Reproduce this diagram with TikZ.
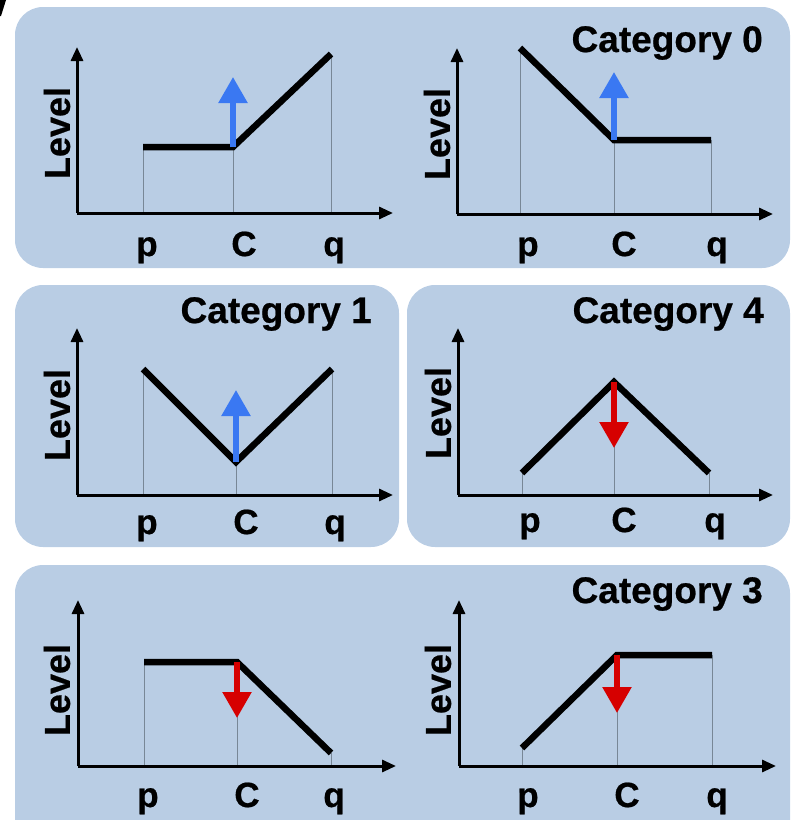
\documentclass[tikz,border=0pt]{standalone}
\usepackage{fontspec}
\setmainfont{Liberation Sans}[BoldFeatures={FakeBold=0.6}]
\usetikzlibrary{arrows.meta}
\definecolor{panelblue}{RGB}{185,205,228}
\definecolor{arrowblue}{RGB}{58,120,242}
\definecolor{arrowred}{RGB}{214,0,0}
\definecolor{guidegray}{RGB}{120,135,150}
\tikzset{
  panel/.style={fill=panelblue, draw=none, rounded corners=28pt},
  axis/.style={line width=3pt, -{Triangle[length=14pt,width=12pt]}},
  curve/.style={line width=6.5pt},
  guide/.style={draw=guidegray, line width=0.7pt},
  uparrow/.style={draw=arrowblue, line width=5.5pt, -{Triangle[length=26pt,width=28pt]}},
  downarrow/.style={draw=arrowred, line width=5.5pt, -{Triangle[length=26pt,width=28pt]}},
  lvl/.style={rotate=90, inner sep=0pt, font=\bfseries\fontsize{36}{38}\selectfont},
  tick/.style={anchor=base, inner sep=0pt, font=\bfseries\fontsize{35}{38}\selectfont},
  cat/.style={anchor=base east, inner sep=0pt, font=\bfseries\fontsize{37}{40}\selectfont},
}
\begin{document}
\begin{tikzpicture}[x=1pt,y=-1pt]
\useasboundingbox (0,0) rectangle (792,820);
\clip (0,0) rectangle (792,820);
\fill (0,0) -- (6,0) -- (1,16) -- (0,16) -- cycle;
% panels
\fill[panel] (15,7) rectangle (790,268);
\fill[panel] (15,285) rectangle (399,547);
\fill[panel] (407,285) rectangle (790,547);
\fill[panel] (15,565) rectangle (790,860);

% ---------- Plot A (top left)
\coordinate (aO) at (77,213); \coordinate (aY) at (77,47); \coordinate (aX) at (393,213);
\coordinate (aPb) at (143,213); \coordinate (aCb) at (233,213); \coordinate (aQb) at (331,213);
\coordinate (aP) at (143,147); \coordinate (aC) at (233,147); \coordinate (aQ) at (331,54);
\coordinate (aT) at (233,77);
\draw[guide] (aPb) -- (aP); \draw[guide] (aCb) -- (aC); \draw[guide] (aQb) -- (aQ);
\draw[axis] (aO) -- (aY); \draw[axis] (aO) -- (aX);
\draw[curve] (aP) -- (aC) -- (aQ);
\draw[uparrow] (aC) -- (aT);
\node[lvl] (aL) at (57,133) {Level};
\node[tick] (ap) at (147,256) {p};
\node[tick] (ac) at (244,256) {C};
\node[tick] (aq) at (334,256) {q};

% ---------- Plot B (top right)
\coordinate (bO) at (457,214); \coordinate (bY) at (457,48); \coordinate (bX) at (773,214);
\coordinate (bPb) at (520,214); \coordinate (bCb) at (614,214); \coordinate (bQb) at (711,214);
\coordinate (bP) at (520,48); \coordinate (bC) at (614,140); \coordinate (bQ) at (711,140);
\coordinate (bT) at (614,72);
\draw[guide] (bPb) -- (bP); \draw[guide] (bCb) -- (bC); \draw[guide] (bQb) -- (bQ);
\draw[axis] (bO) -- (bY); \draw[axis] (bO) -- (bX);
\draw[curve] (bP) -- (bC) -- (bQ);
\draw[uparrow] (bC) -- (bT);
\node[lvl] (bL) at (437,134) {Level};
\node[tick] (bp) at (528,256) {p};
\node[tick] (bc) at (624,256) {C};
\node[tick] (bq) at (717,256) {q};
\node[cat] (b0) at (763,52) {Category 0};

% ---------- Plot C (middle left)
\coordinate (cO) at (77,495); \coordinate (cY) at (77,328); \coordinate (cX) at (393,495);
\coordinate (cPb) at (143,495); \coordinate (cCb) at (236,495); \coordinate (cQb) at (332,495);
\coordinate (cP) at (143,369); \coordinate (cC) at (236,462); \coordinate (cQ) at (332,369);
\coordinate (cT) at (236,390);
\draw[guide] (cPb) -- (cP); \draw[guide] (cCb) -- (cC); \draw[guide] (cQb) -- (cQ);
\draw[axis] (cO) -- (cY); \draw[axis] (cO) -- (cX);
\draw[curve] (cP) -- (cC) -- (cQ);
\draw[uparrow] (cC) -- (cT);
\node[lvl] (cL) at (57,415) {Level};
\node[tick] (cp) at (147,534) {p};
\node[tick] (cc) at (246,534) {C};
\node[tick] (cq) at (335,534) {q};
\node[cat] (c1) at (372,323) {Category 1};

% ---------- Plot D (middle right)
\coordinate (dO) at (458,495); \coordinate (dY) at (458,328); \coordinate (dX) at (773,495);
\coordinate (dPb) at (522,495); \coordinate (dCb) at (614,495); \coordinate (dQb) at (709,495);
\coordinate (dP) at (522,473); \coordinate (dC) at (614,382); \coordinate (dQ) at (709,473);
\coordinate (dT) at (614,448);
\draw[guide] (dPb) -- (dP); \draw[guide] (dCb) -- (dC); \draw[guide] (dQb) -- (dQ);
\draw[axis] (dO) -- (dY); \draw[axis] (dO) -- (dX);
\draw[curve] (dP) -- (dC) -- (dQ);
\draw[downarrow] (dC) -- (dT);
\node[lvl] (dL) at (438,413) {Level};
\node[tick] (dp) at (530,532) {p};
\node[tick] (dc) at (624,532) {C};
\node[tick] (dq) at (715,532) {q};
\node[cat] (d4) at (764,323) {Category 4};

% ---------- Plot E (bottom left)
\coordinate (eO) at (78,766); \coordinate (eY) at (78,600); \coordinate (eX) at (396,766);
\coordinate (ePb) at (144,766); \coordinate (eCb) at (237,766); \coordinate (eQb) at (331,766);
\coordinate (eP) at (144,662); \coordinate (eC) at (237,662); \coordinate (eQ) at (331,753);
\coordinate (eT) at (237,718);
\draw[guide] (ePb) -- (eP); \draw[guide] (eCb) -- (eC); \draw[guide] (eQb) -- (eQ);
\draw[axis] (eO) -- (eY); \draw[axis] (eO) -- (eX);
\draw[curve] (eP) -- (eC) -- (eQ);
\draw[downarrow] (eC) -- (eT);
\node[lvl] (eL) at (57,690) {Level};
\node[tick] (ep) at (148,807) {p};
\node[tick] (ec) at (247,807) {C};
\node[tick] (eq) at (334,807) {q};

% ---------- Plot F (bottom right)
\coordinate (fO) at (459,766); \coordinate (fY) at (459,600); \coordinate (fX) at (776,766);
\coordinate (fPb) at (522,766); \coordinate (fCb) at (617,766); \coordinate (fQb) at (712,766);
\coordinate (fP) at (522,748); \coordinate (fC) at (617,655); \coordinate (fQ) at (712,655);
\coordinate (fT) at (617,713);
\draw[guide] (fPb) -- (fP); \draw[guide] (fCb) -- (fC); \draw[guide] (fQb) -- (fQ);
\draw[axis] (fO) -- (fY); \draw[axis] (fO) -- (fX);
\draw[curve] (fP) -- (fC) -- (fQ);
\draw[downarrow] (fC) -- (fT);
\node[lvl] (fL) at (438,690) {Level};
\node[tick] (fp) at (528,807) {p};
\node[tick] (fc) at (627,807) {C};
\node[tick] (fq) at (717,807) {q};
\node[cat] (f3) at (763,603) {Category 3};
\end{tikzpicture}
\end{document}
